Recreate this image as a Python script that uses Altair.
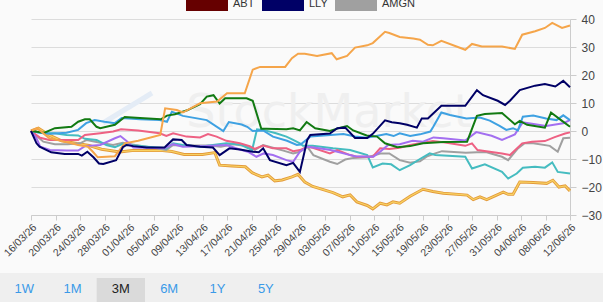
import altair as alt
import pandas as pd

FONT = "Liberation Sans"
START = pd.Timestamp("2026-03-16")

# Legend / colour table
TICKERS = ["ABT", "LLY", "AMGN", "BMY", "TMO", "GILD", "MRK", "JNJ", "ABBV", "PFE"]
COLORS = ["#660000", "#000066", "#a0a0a0", "#45bcc0", "#ee6183", "#a36ff0",
          "#3ea1e2", "#127a12", "#f5a54a", "#e39a3b"]
LEGEND_SHOWN = ["ABT", "LLY", "AMGN"]

# (days since 16/03/26, % change)
LLY = [(0, 0), (0.9, -4.4), (1.4, -5.6), (3.3, -7.6), (5.5, -8.2), (7.7, -8.2), (8.3, -8.8), (9.2, -7.4),
       (10.2, -9.4), (11.1, -11.6), (11.8, -11.8), (13.9, -10.4), (15.0, -5.8), (15.6, -5.0),
       (16.7, -5.4), (18.9, -5.9), (21.8, -5.9), (23.2, -3.0), (24.6, -3.2), (25.4, -5.0),
       (27.6, -5.6), (29.7, -5.9), (30.8, -8.6), (32.4, -6.2), (34.1, -6.6), (36.2, -7.4),
       (37.2, -7.6), (37.9, -6.2), (39.0, -10.4), (41.7, -12.2), (42.8, -11.4), (43.9, -14.6),
       (45.1, -3.2), (45.6, -1.4), (48.8, -0.9), (50.0, 1.0), (51.3, 1.2), (52.9, -2.5),
       (54.9, -2.5), (55.8, -1.0), (57.8, 3.8), (58.9, 3.1), (60.2, 2.8), (61.4, 2.2), (63.0, 1.2),
       (63.8, 4.5), (64.8, 4.5), (67.0, 9.0), (70.9, 9.0), (72.8, 14.6), (73.8, 12.8),
       (76.2, 10.8), (77.4, 9.3), (78.2, 10.8), (79.8, 14.6), (82.3, 16.2), (83.9, 16.8),
       (85.6, 15.9), (86.9, 17.9), (88.0, 15.6)]

JNJ = [(0, 0), (2.2, -0.6), (3.9, 1.0), (6.6, 1.5), (7.7, 3.3), (8.8, 4.2), (9.6, 4.2), (10.7, 1.5),
       (11.3, 1.0), (13.7, 2.2), (15.3, 5.0), (17.8, 4.6), (21.2, 4.2), (22.2, 5.5), (23.5, 6.0),
       (25.5, 7.4), (27.6, 9.6), (28.7, 12.3), (29.8, 12.8), (30.8, 9.8), (31.7, 11.7),
       (35.2, 11.7), (36.2, 10.8), (37.6, 0.8), (38.4, 0.8), (41.7, 0.6), (42.8, 1.0),
       (43.9, 0.2), (45.0, 3.2), (46.4, 1.0), (48.8, 0.0), (50.5, 1.2), (51.6, 1.8), (52.6, 0.2),
       (54.8, -1.6), (56.5, -2.0), (57.8, -4.4), (59.8, -5.8), (61.9, -5.4), (64.0, -4.4),
       (67.3, -3.9), (71.2, -3.8), (72.8, 5.4), (74.1, 6.1), (76.9, 6.4), (79.0, 2.4),
       (79.8, 3.6), (81.0, 2.2), (83.9, 1.2), (84.9, 6.6), (86.7, 3.6), (88.0, 1.5)]

MRK = [(0, 0), (1.5, -0.6), (3.1, -1.0), (5.8, -0.6), (7.7, 0.4), (9.0, 2.8), (10.4, 3.9), (12.0, 3.3),
       (13.7, 2.8), (14.8, 4.6), (17.8, 4.2), (21.0, 3.9), (22.2, 3.3), (23.0, 6.9), (24.8, 5.4),
       (28.7, 3.9), (31.4, 0.0), (32.3, 3.2), (34.4, 2.3), (35.3, 1.5), (36.2, 0.0), (37.9, 0.2),
       (39.5, -2.0), (41.8, -3.5), (43.4, -5.0), (44.0, -4.8), (45.6, -2.0), (48.9, -1.4),
       (51.0, -1.1), (52.9, -2.0), (54.8, -2.4), (57.0, -1.5), (58.0, -1.1), (59.2, -1.8),
       (60.2, -0.8), (61.9, -1.8), (63.5, -1.2), (65.2, -0.2), (65.7, 1.6), (67.0, 6.6),
       (68.4, 5.7), (71.1, 4.5), (73.3, 4.8), (74.9, 3.7), (76.5, 1.8), (77.6, 0.4), (78.7, 1.0),
       (79.5, 0.2), (80.3, 5.1), (82.0, 5.5), (84.1, 4.5), (85.8, 3.9), (86.9, 5.6), (88.0, 3.9)]

BMY = [(0, 0), (2.0, -0.8), (3.9, -0.8), (5.8, -1.4), (7.7, -1.6), (8.8, -2.8), (10.7, -3.2),
       (12.3, -5.0), (13.7, -5.8), (15.0, -4.6), (16.1, -5.0), (19.0, -5.6), (22.1, -6.2),
       (23.2, -4.4), (24.8, -5.0), (27.6, -5.6), (29.7, -5.0), (31.9, -4.4), (34.1, -4.8),
       (36.1, -6.8), (36.9, 0.6), (37.9, 0.4), (40.0, -0.8), (41.7, -2.0), (42.8, -3.2),
       (43.9, -4.4), (44.4, -5.3), (46.0, -5.3), (49.3, -6.2), (52.1, -6.8), (54.9, -8.6),
       (55.8, -13.0), (57.4, -11.6), (58.8, -11.9), (60.2, -14.0), (61.9, -12.2), (63.5, -10.0),
       (65.1, -8.0), (66.0, -8.6), (70.9, -9.2), (72.0, -13.4), (74.1, -11.9), (76.9, -14.6),
       (77.9, -17.0), (79.3, -15.2), (80.3, -13.1), (82.3, -12.8), (83.9, -13.1), (85.1, -11.2),
       (86.0, -14.6), (88.0, -15.2)]

TMO = [(0, 0), (1.5, -2.4), (3.0, -3.2), (7.7, -3.2), (8.8, -1.4), (11.3, -0.8), (13.4, -0.2),
       (14.7, 0.6), (17.5, 0.2), (21.0, -0.8), (22.1, -1.8), (23.2, -0.8), (25.4, -2.0),
       (27.6, -2.3), (28.9, -1.1), (30.3, -2.0), (31.9, -3.5), (34.1, -4.4), (35.7, -5.4),
       (36.5, -6.4), (37.9, -5.2), (39.5, -6.2), (41.7, -6.2), (42.8, -7.2), (43.9, -6.8),
       (45.1, -5.6), (46.0, -6.0), (48.8, -8.0), (50.0, -6.8), (52.1, -8.6), (53.2, -9.2),
       (55.8, -9.2), (57.0, -6.2), (58.5, -6.4), (60.2, -6.0), (61.9, -5.0), (63.5, -4.4),
       (65.6, -3.6), (67.6, -4.1), (70.9, -5.3), (72.0, -4.4), (72.9, -6.8), (76.9, -8.0),
       (78.2, -8.6), (80.2, -4.4), (81.8, -3.8), (83.9, -3.6), (85.5, -2.2), (87.2, -0.9),
       (88.0, -0.5)]

GILD = [(0, 0), (0.9, -2.6), (1.5, -5.6), (3.1, -6.8), (5.8, -7.0), (7.7, -7.0), (8.8, -5.4),
        (11.3, -5.0), (13.7, -2.6), (14.6, -1.8), (15.6, -3.6), (16.7, -5.9), (21.8, -6.2),
        (23.2, -4.7), (24.8, -5.6), (28.6, -5.4), (31.9, -5.0), (34.1, -6.6), (35.4, -7.4),
        (36.8, -9.2), (38.0, -8.0), (39.5, -8.6), (41.7, -10.4), (42.8, -11.0), (43.9, -7.4),
        (45.1, -5.6), (46.5, -6.0), (48.9, -6.8), (51.0, -8.0), (52.9, -9.0), (55.9, -9.2),
        (57.0, -7.4), (58.3, -5.0), (60.2, -4.7), (62.3, -3.5), (64.0, -3.8), (65.7, -2.3),
        (67.3, -2.6), (70.9, -3.4), (72.7, -0.4), (75.2, -1.7), (76.9, -3.2), (79.0, -1.2),
        (80.3, 3.1), (82.3, 2.4), (84.1, 1.8), (86.9, 2.8), (88.0, 3.9)]

AMGN = [(0, 0), (2.0, -3.8), (3.9, -4.7), (6.0, -4.7), (8.0, -4.4), (9.1, -3.2), (11.3, -4.2),
        (13.4, -5.0), (15.0, -4.2), (17.0, -5.0), (20.0, -6.0), (22.1, -6.8), (23.2, -5.0),
        (25.5, -5.2), (29.0, -5.2), (31.0, -5.6), (33.0, -4.7), (35.2, -5.4), (36.5, -6.8),
        (37.9, -5.0), (39.5, -6.0), (41.2, -7.0), (42.8, -8.0), (43.9, -7.4), (45.1, -5.6),
        (46.1, -8.6), (48.8, -11.0), (50.0, -11.8), (51.3, -10.2), (52.6, -9.6), (54.9, -9.4),
        (57.2, -8.0), (58.5, -8.0), (60.2, -10.4), (61.9, -11.3), (63.5, -10.8), (64.7, -9.0),
        (66.0, -8.0), (67.1, -7.2), (71.0, -7.8), (72.8, -7.6), (74.4, -7.6), (76.9, -9.2),
        (77.9, -10.4), (79.5, -6.2), (80.6, -4.4), (82.0, -4.4), (84.7, -5.3), (86.0, -7.4),
        (86.9, -2.6), (88.0, -2.4)]

ABBV = [(0, 0), (1.0, 1.0), (3.0, -2.6), (5.5, -3.8), (7.7, -5.0), (9.3, -5.6), (10.1, -7.4),
        (10.9, -9.4), (13.7, -9.0), (15.3, -4.4), (17.5, -3.5), (21.1, -1.4), (21.9, 8.1),
        (23.8, 7.5), (24.8, 6.6), (27.6, 9.9), (30.4, 10.5), (32.0, 13.5), (34.9, 13.5),
        (36.2, 21.9), (37.4, 22.9), (41.5, 22.9), (42.6, 26.0), (43.6, 27.6), (44.7, 27.6),
        (46.7, 26.8), (49.1, 27.8), (49.9, 25.6), (51.6, 26.8), (52.9, 29.8), (54.9, 30.6),
        (55.8, 31.4), (57.8, 35.4), (58.5, 35.0), (60.2, 33.6), (62.4, 33.0), (63.5, 32.6),
        (64.8, 30.8), (65.6, 30.6), (67.0, 32.2), (70.9, 29.0), (72.0, 31.1), (73.6, 30.2),
        (76.9, 30.2), (79.0, 29.3), (80.2, 34.4), (82.3, 35.6), (83.9, 36.8), (85.1, 38.6),
        (86.7, 36.8), (88.0, 37.7)]

PFE = [(0, 0), (1.2, 1.0), (3.0, -1.5), (5.0, -3.5), (7.5, -4.5), (9.5, -5.2), (11.5, -6.5),
       (14.5, -7.5), (16.5, -7.0), (19.0, -7.0), (21.5, -7.0), (23.0, -7.3), (25.0, -8.4),
       (28.0, -8.4), (30.0, -7.7), (30.8, -12.2), (32.8, -12.5), (35.0, -12.8), (36.1, -14.9),
       (37.7, -16.4), (38.7, -15.8), (39.8, -17.8), (41.0, -17.5), (42.6, -16.4), (43.6, -15.5),
       (44.7, -18.2), (46.0, -19.8), (49.3, -22.0), (50.9, -23.5), (52.1, -22.8), (53.2, -25.3),
       (54.9, -26.6), (55.8, -27.8), (57.0, -25.8), (58.1, -26.4), (59.1, -25.3), (60.2, -25.8),
       (61.9, -23.3), (64.0, -20.8), (65.6, -21.6), (67.3, -22.2), (71.2, -22.9), (72.2, -24.5),
       (73.3, -23.5), (74.4, -24.5), (77.1, -21.8), (77.9, -22.6), (78.7, -22.6), (79.8, -18.2),
       (82.0, -18.4), (84.2, -18.7), (85.2, -17.6), (86.2, -20.0), (87.2, -19.6), (88.0, -21.4)]

# drawing order: first listed ends up underneath
SERIES = {"AMGN": AMGN, "BMY": BMY, "TMO": TMO, "GILD": GILD, "MRK": MRK,
          "JNJ": JNJ, "ABBV": ABBV, "LLY": LLY}

TICK_DATES = ["2026-03-16", "2026-03-20", "2026-03-24", "2026-03-28", "2026-04-01", "2026-04-05",
              "2026-04-09", "2026-04-13", "2026-04-17", "2026-04-21", "2026-04-25", "2026-04-29",
              "2026-05-03", "2026-05-07", "2026-05-11", "2026-05-15", "2026-05-19", "2026-05-23",
              "2026-05-27", "2026-05-31", "2026-06-04", "2026-06-08", "2026-06-12"]
Y_TICKS = [-30, -20, -10, 0, 10, 20, 30, 40]
BUTTONS = ["1W", "1M", "3M", "6M", "1Y", "5Y"]
SELECTED = "3M"
WATERMARK = "StockMarket"


def stamp(day):
    return (START + pd.Timedelta(days=day)).strftime("%Y-%m-%dT%H:%M:%SZ")


def dt(s):
    y, m, d = (int(p) for p in s.split("-"))
    return alt.DateTime(year=y, month=m, date=d, utc=True)


rows = [{"ticker": name, "date": stamp(d), "pct": v}
        for name, pts in SERIES.items() for d, v in pts]
df = pd.DataFrame(rows)
gold = pd.DataFrame([{"date": stamp(d), "pct": v} for d, v in PFE])

x_scale = alt.Scale(type="utc", domain=[dt(TICK_DATES[0]), dt(TICK_DATES[-1])], nice=False)
y_scale = alt.Scale(domain=[Y_TICKS[0], Y_TICKS[-1]], nice=False)

x_axis = alt.Axis(values=[dt(s) for s in TICK_DATES], format="%d/%m/%y", labelAngle=-45,
                  labelAlign="right", labelBaseline="top", labelFontSize=10.5, labelFont=FONT,
                  labelColor="#444444", labelPadding=2, labelOverlap=False, labelFlush=False,
                  tickSize=5, tickColor="#cccccc", domainColor="#cccccc", grid=False, title=None)
y_axis = alt.Axis(orient="right", values=Y_TICKS, grid=True, gridColor="#dcdcdc",
                  domainColor="#cccccc", tickColor="#cccccc", tickSize=6, labelPadding=5,
                  labelFontSize=12, labelFont=FONT, labelColor="#444444", labelOverlap=False,
                  labelFlush=False, title=None)

# wide filled swatches for the legend row
legend = alt.Legend(values=LEGEND_SHOWN, orient="none", legendX=155, legendY=-36,
                    direction="horizontal", title=None, symbolType="M-1,-0.33H1V0.33H-1Z",
                    symbolSize=1764, symbolStrokeWidth=0, symbolOpacity=1, labelFontSize=11,
                    labelFont=FONT, labelColor="#333333", labelOffset=5, columnPadding=7,
                    padding=0)

lines = alt.Chart(df).mark_line().encode(
    x=alt.X("date:T", scale=x_scale, axis=x_axis),
    y=alt.Y("pct:Q", scale=y_scale, axis=y_axis),
    color=alt.Color("ticker:N", scale=alt.Scale(domain=TICKERS, range=COLORS), legend=None),
)

# carries the legend; its own points sit outside the canvas
key = alt.Chart(pd.DataFrame({"ticker": LEGEND_SHOWN})).mark_point(filled=True, opacity=1).encode(
    x=alt.value(-1000), y=alt.value(-1000),
    color=alt.Color("ticker:N", scale=alt.Scale(domain=TICKERS, range=COLORS), legend=legend),
)

gold_base = alt.Chart(gold).mark_line(color="#e39a3b", strokeWidth=3).encode(
    x=alt.X("date:T", scale=x_scale, axis=None),
    y=alt.Y("pct:Q", scale=y_scale, axis=y_axis),
)
gold_top = alt.Chart(gold).mark_line(color="#f8d263", strokeWidth=1.2).encode(
    x=alt.X("date:T", scale=x_scale, axis=None),
    y=alt.Y("pct:Q", scale=y_scale, axis=y_axis),
)

one = pd.DataFrame({"k": [0]})
band = alt.Chart(one).mark_rect(color="#efefef").encode(
    x=alt.value(-31), x2=alt.value(572), y=alt.value(254), y2=alt.value(283))

btn_df = pd.DataFrame({"label": BUTTONS, "selected": [b == SELECTED for b in BUTTONS]})
btn_scale = alt.Scale(type="band", domain=BUTTONS, range=[-31, 259], paddingInner=0, paddingOuter=0)
btn_sel = alt.Chart(btn_df).transform_filter(alt.datum.selected).mark_rect(color="#dadada").encode(
    x=alt.X("label:N", scale=btn_scale, axis=None), y=alt.value(259), y2=alt.value(283))
btn_text = alt.Chart(btn_df).mark_text(font=FONT, fontSize=13, baseline="middle").encode(
    x=alt.X("label:N", scale=btn_scale, axis=None), y=alt.value(270), text="label:N",
    color=alt.condition(alt.datum.selected, alt.value("#222222"), alt.value("#3a9ae8")))

mark_wm = alt.Chart(one).mark_text(text=WATERMARK, font="DejaVu Sans", fontSize=46,
                                   color="#efefef", align="center", baseline="alphabetic").encode(
    x=alt.value(298), y=alt.value(108))
logo = alt.Chart(one).mark_rule(color="#e4ecf6", strokeWidth=5).encode(
    x=alt.value(72), y=alt.value(104), x2=alt.value(121), y2=alt.value(74))

chart = alt.layer(band, btn_sel, btn_text, mark_wm, logo, gold_base, gold_top, lines, key).resolve_scale(
    x="independent", color="independent"
).properties(
    width=539, height=196,
    autosize=alt.AutoSizeParams(type="none"),
    padding={"left": 31, "top": 19, "right": 33, "bottom": 87},
    background="#fafafa",
).configure_view(stroke=None).configure_line(strokeWidth=2)

chart.save("out.html", embed_options={"renderer": "svg", "actions": False})
